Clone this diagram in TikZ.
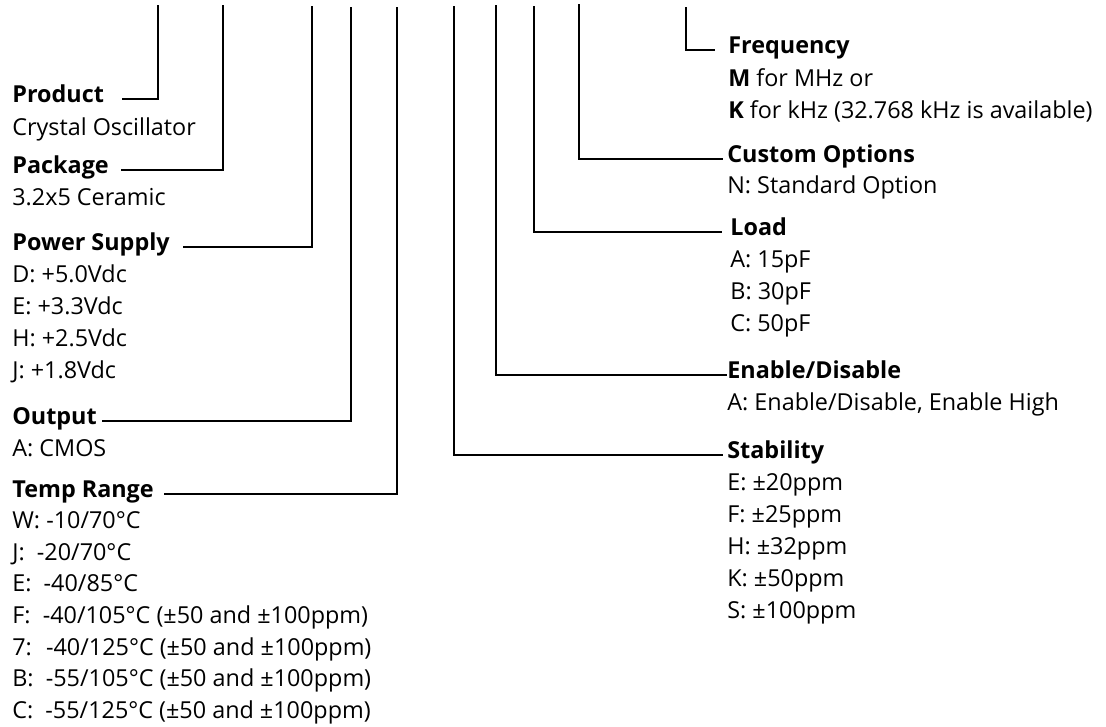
\documentclass[tikz,border=0pt]{standalone}
\usepackage{fontspec}
\setmainfont{Open Sans}
\usetikzlibrary{positioning, calc}

\tikzset{
  lbl/.style={anchor=base west, inner sep=0pt, font=\fontsize{13.3}{15}\selectfont},
  hd/.style={lbl, font=\fontsize{13.3}{15}\selectfont\bfseries},
  lead/.style={line width=1.1pt},
}

\begin{document}
\begin{tikzpicture}[x=0.02cm, y=-0.02cm]
\useasboundingbox (0,0) rectangle (1106,727);

% Left column
\node[hd] (prod) at (12,102) {Product};
\node[lbl] (prod1) at (12,135) {Crystal Oscillator};
\node[hd] (pkg) at (12,173) {Package};
\node[lbl] (pkg1) at (12,205) {3.2x5 Ceramic};
\node[hd] (pwr) at (12,250) {Power Supply};
\foreach \t [count=\i] in {D: +5.0Vdc, E: +3.3Vdc, H: +2.5Vdc, J: +1.8Vdc}
  \node[lbl] (pwr\i) at (12,{250+32*\i}) {\t};
\node[hd] (out) at (12,424) {Output};
\node[lbl] (out1) at (12,456) {A: CMOS};
\node[hd] (temp) at (12,497) {Temp Range};
\foreach \t [count=\i] in {W: -10/70°C, J: \ -20/70°C, E: \ -40/85°C,
    F: \ -40/105°C (±50 and ±100ppm), 7: \ -40/125°C (±50 and ±100ppm),
    B: \ -55/105°C (±50 and ±100ppm), C: \ -55/125°C (±50 and ±100ppm)}
  \node[lbl] (temp\i) at (12,{497+31.6*\i}) {\t};

% Right column
\node[hd] (freq) at (728,53) {Frequency};
\node[lbl] (freq1) at (728,86) {\textbf{M} for MHz or};
\node[lbl] (freq2) at (728,118) {\textbf{K} for kHz (32.768 kHz is available)};
\node[hd] (cust) at (727,162) {Custom Options};
\node[lbl] (cust1) at (727,193) {N: Standard Option};
\node[hd] (load) at (730,235) {Load};
\foreach \t [count=\i] in {A: 15pF, B: 30pF, C: 50pF}
  \node[lbl] (load\i) at (730,{235+32*\i}) {\t};
\node[hd] (en) at (727,378) {Enable/Disable};
\node[lbl] (en1) at (727,410) {A: Enable/Disable, Enable High};
\node[hd] (stab) at (727,458) {Stability};
\foreach \t [count=\i] in {E: ±20ppm, F: ±25ppm, H: ±32ppm, K: ±50ppm, S: ±100ppm}
  \node[lbl] (stab\i) at (727,{458+32*\i}) {\t};

% Tops of the leads
\coordinate (tprod) at (158,5);
\coordinate (tpkg) at (223,5);
\coordinate (tpwr) at (312,6);
\coordinate (tout) at (351,7);
\coordinate (ttemp) at (397,7);
\coordinate (tstab) at (454,6);
\coordinate (ten) at (496,5);
\coordinate (tload) at (534,6);
\coordinate (tcust) at (579,4);
\coordinate (tfreq) at (686,7);

% Leads
\draw[lead] ([shift={(18,-3)}]prod.base east) -| (tprod);
\draw[lead] ([shift={(12,-3)}]pkg.base east) -| (tpkg);
\draw[lead] ([shift={(13,-3)}]pwr.base east) -| (tpwr);
\draw[lead] ([shift={(5,-3)}]out.base east) -| (tout);
\draw[lead] ([shift={(10,-3)}]temp.base east) -| (ttemp);
\draw[lead] (tfreq) |- ([shift={(-13,-3)}]freq.base west);
\draw[lead] (tcust) |- ([shift={(-4,-3)}]cust.base west);
\draw[lead] (tload) |- ([shift={(-8,-3)}]load.base west);
\draw[lead] (ten) |- ([shift={(0,-3)}]en.base west);
\draw[lead] (tstab) |- ([shift={(-4,-3)}]stab.base west);
\end{tikzpicture}
\end{document}
